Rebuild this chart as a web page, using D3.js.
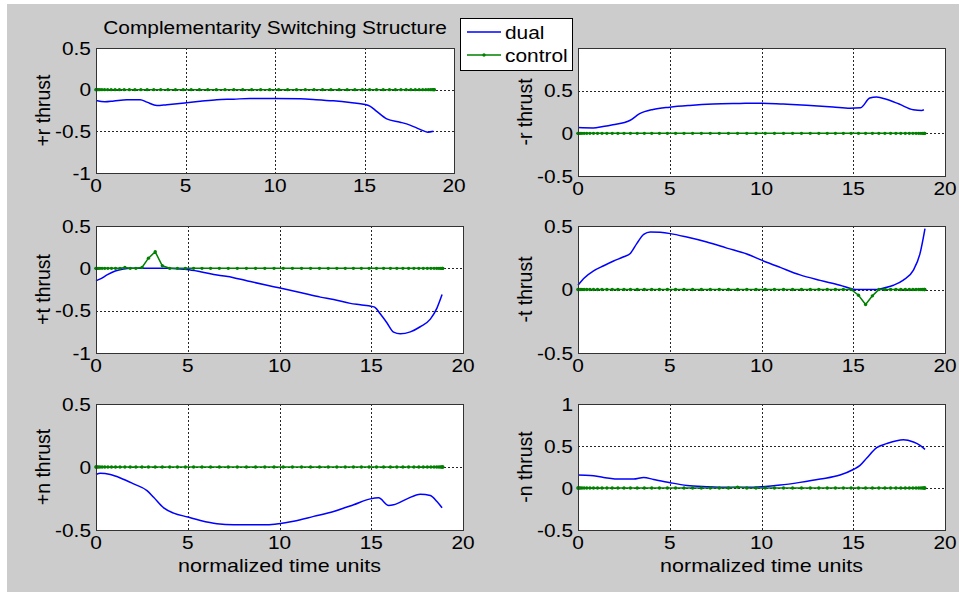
<!DOCTYPE html>
<html>
<head>
<meta charset="utf-8">
<script src="https://cdn.jsdelivr.net/npm/d3@7"></script>
<style>
  html, body { margin: 0; padding: 0; background: #ffffff; }
  svg { display: block; }
  text { font-family: "Liberation Sans", Arial, Helvetica, sans-serif; fill: #000; }
</style>
</head>
<body>
<svg id="chart" width="959" height="592"></svg>
<script>
// Collocation time nodes shared by the control history
const timeNodes = [0, 0.013, 0.054, 0.120, 0.214, 0.333, 0.478, 0.649, 0.845, 1.065,
  1.308, 1.575, 1.864, 2.175, 2.506, 2.857, 3.227, 3.614, 4.018, 4.438,
  4.871, 5.318, 5.776, 6.244, 6.722, 7.207, 7.699, 8.196, 8.696, 9.199,
  9.702, 10.204, 10.704, 11.201, 11.693, 12.178, 12.656, 13.124, 13.583, 14.029,
  14.462, 14.882, 15.286, 15.673, 16.043, 16.394, 16.725, 17.036, 17.325, 17.592,
  17.836, 18.056, 18.251, 18.422, 18.567, 18.687, 18.780, 18.847, 18.887, 18.9];

// Control values at each node
const ctrlPosR = [0,0,0,0,0,0,0,0,0,0, 0,0,0,0,0,0,0,0,0,0, 0,0,0,0,0,0,0,0,0,0,
  0,0,0,0,0,0,0,0,0,0, 0,0,0,0,0,0,0,0,0,0, 0,0,0,0,0,0,0,0,0,0];
const ctrlNegR = [0,0,0,0,0,0,0,0,0,0, 0,0,0,0,0,0,0,0,0,0, 0,0,0,0,0,0,0,0,0,0,
  0,0,0,0,0,0,0,0,0,0, 0,0,0,0,0,0,0,0,0,0, 0,0,0,0,0,0,0,0,0,0];
const ctrlPosT = [0,0,0,0,0,0,0,0,0,0, 0,0.01,0,0,0.01,0.12,0.195,0.03,0,0, 0,0,0,0,0,0,0,0,0,0,
  0,0,0,0,0,0,0,0,0,0, 0,0,0,0,0,0,0,0,0,0, 0,0,0,0,0,0,0,0,0,0];
const ctrlNegT = [0,0,0,0,0,0,0,0,0,0, 0,0,0,0,0,0,0,0,0,0, 0,0,0,0,0,0,0,0,0,0,
  0,0,0,0,0,0,0,0,0,0, 0,0,-0.045,-0.118,-0.05,0,0,0,0,0, 0,0,0,0,0,0,0,0,0,0];
const ctrlPosN = [0,0,0,0,0,0,0,0,0,0, 0,0,0,0,0,0,0,0,0,0, 0,0,0,0,0,0,0,0,0,0,
  0,0,0,0,0,0,0,0,0,0, 0,0,0,0,0,0,0,0,0,0, 0,0,0,0,0,0,0,0,0,0];
const ctrlNegN = [0,0,0,0,0,0,0,0,0,0, 0,0,0,0,0,0,0,0,0,0, 0,0,0,0,0,0,0,0,0.01,0,
  0,0,0,0,0,0,0,0,0,0, 0,0,0,0,0,0,0,0,0,0, 0,0,0,0,0,0,0,0,0,0];

// Dual (costate) histories as [time, value]
const dualPosR = [[0,-0.13],[0.5,-0.145],[1.0,-0.135],[1.73,-0.12],[2.47,-0.12],[2.85,-0.15],[3.4,-0.19],
  [3.96,-0.18],[4.95,-0.16],[5.82,-0.14],[6.75,-0.12],[7.68,-0.114],[8.6,-0.106],[9.97,-0.106],
  [11.4,-0.11],[12.3,-0.12],[13.26,-0.134],[14.2,-0.154],[15.03,-0.177],[15.3,-0.197],
  [15.68,-0.26],[16.24,-0.35],[16.99,-0.39],[17.54,-0.425],[18.1,-0.476],[18.53,-0.51],[18.85,-0.5]];
const dualNegR = [[0,0.067],[0.82,0.063],[1.36,0.079],[1.9,0.10],[2.82,0.15],[3.36,0.23],
  [4.09,0.28],[5.0,0.307],[6.09,0.327],[7.36,0.343],[8.82,0.35],[10.0,0.354],[11.18,0.343],
  [12.45,0.33],[13.9,0.31],[14.82,0.295],[15.4,0.3],[15.9,0.413],[16.27,0.425],[16.8,0.40],
  [17.5,0.343],[18.27,0.276],[18.73,0.268],[18.85,0.276]];
const dualPosT = [[0,-0.148],[0.24,-0.125],[0.6,-0.078],[1.05,-0.031],[1.5,-0.008],[1.87,0],
  [3.87,0],[4.6,-0.008],[4.96,-0.015],[5.69,-0.04],[6.6,-0.078],[7.5,-0.11],[8.41,-0.156],
  [9.32,-0.2],[9.97,-0.23],[11.13,-0.285],[12.23,-0.34],[12.95,-0.367],[13.86,-0.414],
  [14.4,-0.43],[15.04,-0.45],[15.2,-0.46],[15.5,-0.54],[15.86,-0.645],[16.22,-0.754],
  [16.58,-0.773],[17.13,-0.75],[17.67,-0.69],[18.22,-0.6],[18.58,-0.47],[18.86,-0.31]];
const dualNegT = [[0,0.034],[0.31,0.087],[0.85,0.147],[1.4,0.187],[1.94,0.224],[2.49,0.258],
  [2.85,0.284],[3.21,0.363],[3.58,0.434],[3.94,0.453],[4.48,0.45],[5.03,0.44],[5.93,0.413],
  [7.02,0.374],[8.11,0.326],[9.2,0.279],[10.04,0.229],[11.02,0.174],[12.1,0.115],
  [13.2,0.072],[14.28,0.034],[15.0,0.003],[15.2,0],[16.3,0],[16.46,0.005],[17.19,0.034],
  [17.73,0.074],[18.28,0.153],[18.64,0.284],[18.91,0.48]];
const dualPosN = [[0,-0.06],[0.24,-0.05],[0.78,-0.06],[1.33,-0.087],[2.05,-0.134],[2.78,-0.187],
  [3.14,-0.24],[3.69,-0.324],[4.23,-0.366],[5.01,-0.397],[5.69,-0.424],[6.59,-0.45],
  [7.5,-0.458],[8.41,-0.458],[9.32,-0.458],[9.97,-0.45],[10.77,-0.43],[11.86,-0.392],
  [12.95,-0.353],[14.04,-0.3],[14.95,-0.253],[15.4,-0.245],[15.95,-0.305],[16.22,-0.3],
  [16.95,-0.253],[17.67,-0.216],[18.22,-0.226],[18.58,-0.274],[18.86,-0.324]];
const dualNegN = [[0,0.154],[0.67,0.15],[1.4,0.126],[2.3,0.106],[3.03,0.106],[3.58,0.126],
  [4.12,0.102],[5.03,0.063],[5.93,0.031],[7.02,0.016],[8.11,0.008],[9.2,0.008],[10.04,0.016],
  [11.02,0.035],[12.1,0.067],[13.2,0.106],[14.28,0.154],[15.0,0.22],[15.37,0.27],[15.74,0.358],
  [16.28,0.48],[16.82,0.528],[17.73,0.575],[18.28,0.547],[18.64,0.508],[18.91,0.46]];

const xTicks = [0, 5, 10, 15, 20];
const xDomain = [0, 20];
const titleText = "Complementarity Switching Structure";
const xLabelText = "normalized time units";
const legendLabels = ["dual", "control"];

const BLUE = "#0000ff", GREEN = "#008000";
const FONT = 18.5, SX = 1.13, YLAB_FONT = 19.5;

const panels = [
  { label: "+r thrust", yDomain: [-1, 0.5], yTicks: [-1, -0.5, 0, 0.5], dual: dualPosR, control: ctrlPosR, box: { l: 96, r: 454, t: 48, b: 173 } },
  { label: "-r thrust", yDomain: [-0.5, 1], yTicks: [-0.5, 0, 0.5], dual: dualNegR, control: ctrlNegR, box: { l: 578, r: 945, t: 48, b: 176 } },
  { label: "+t thrust", yDomain: [-1, 0.5], yTicks: [-1, -0.5, 0, 0.5], dual: dualPosT, control: ctrlPosT, box: { l: 96, r: 463, t: 226, b: 353 } },
  { label: "-t thrust", yDomain: [-0.5, 0.5], yTicks: [-0.5, 0, 0.5], dual: dualNegT, control: ctrlNegT, box: { l: 578, r: 945, t: 226, b: 353 } },
  { label: "+n thrust", yDomain: [-0.5, 0.5], yTicks: [-0.5, 0, 0.5], dual: dualPosN, control: ctrlPosN, box: { l: 96, r: 463, t: 404, b: 530 }, xlabel: true },
  { label: "-n thrust", yDomain: [-0.5, 1], yTicks: [-0.5, 0, 0.5, 1], dual: dualNegN, control: ctrlNegN, box: { l: 578, r: 945, t: 404, b: 530 }, xlabel: true }
];

const svg = d3.select("#chart");

// figure background
svg.append("rect").attr("x", 7).attr("y", 4).attr("width", 952).attr("height", 588).attr("fill", "#cccccc");

// horizontal text, slightly widened
function hText(parent, x, y, str, anchor, size) {
  return parent.append("text")
    .attr("transform", `translate(${x},${y}) scale(${SX},1)`)
    .attr("text-anchor", anchor)
    .attr("font-size", size || FONT)
    .text(str);
}

panels.forEach(p => {
  const b = p.box;
  const x = d3.scaleLinear().domain(xDomain).range([b.l, b.r]);
  const y = d3.scaleLinear().domain(p.yDomain).range([b.b, b.t]);
  const g = svg.append("g");

  g.append("rect").attr("x", b.l).attr("y", b.t).attr("width", b.r - b.l).attr("height", b.b - b.t)
    .attr("fill", "#ffffff");

  // dotted grid
  const grid = g.append("g").attr("stroke", "#000").attr("stroke-width", 1).attr("stroke-dasharray", "2,2").attr("opacity", 0.85);
  xTicks.filter(v => v > xDomain[0] && v < xDomain[1]).forEach(v => {
    grid.append("line").attr("x1", Math.round(x(v)) + 0.5).attr("x2", Math.round(x(v)) + 0.5)
      .attr("y1", b.t).attr("y2", b.b);
  });
  p.yTicks.filter(v => v > p.yDomain[0] && v < p.yDomain[1]).forEach(v => {
    grid.append("line").attr("y1", Math.round(y(v)) + 0.5).attr("y2", Math.round(y(v)) + 0.5)
      .attr("x1", b.l).attr("x2", b.r);
  });

  // dual line
  const line = d3.line().x(d => x(d[0])).y(d => y(d[1])).curve(d3.curveMonotoneX);
  g.append("path").datum(p.dual).attr("d", line).attr("fill", "none")
    .attr("stroke", BLUE).attr("stroke-width", 1.5);

  // control line with dot markers
  const ctrl = timeNodes.map((t, i) => [t, p.control[i]]);
  g.append("path").datum(ctrl).attr("d", d3.line().x(d => x(d[0])).y(d => y(d[1])))
    .attr("fill", "none").attr("stroke", GREEN).attr("stroke-width", 1.5);
  g.append("g").selectAll("circle").data(ctrl).join("circle")
    .attr("cx", d => x(d[0])).attr("cy", d => y(d[1])).attr("r", 1.7).attr("fill", GREEN);

  // axes box
  g.append("rect").attr("x", b.l + 0.5).attr("y", b.t + 0.5).attr("width", b.r - b.l).attr("height", b.b - b.t)
    .attr("fill", "none").attr("stroke", "#333").attr("stroke-width", 1);

  // tick labels
  xTicks.forEach(v => hText(g, x(v), b.b + 18.5, String(v), "middle"));
  p.yTicks.forEach(v => hText(g, b.l - 5, y(v) + FONT * 0.36, String(v), "end"));

  // y label
  g.append("text")
    .attr("transform", `translate(${b.l - 46},${(b.t + b.b) / 2}) rotate(-90)`)
    .attr("text-anchor", "middle").attr("font-size", YLAB_FONT)
    .text(p.label);

  if (p.xlabel) hText(g, (b.l + b.r) / 2, b.b + 41.5, xLabelText, "middle", 19);
});

// title over the first panel
hText(svg, (panels[0].box.l + panels[0].box.r) / 2, 34, titleText, "middle");

// legend
const lg = svg.append("g");
lg.append("rect").attr("x", 460.5).attr("y", 18.5).attr("width", 112).attr("height", 52)
  .attr("fill", "#fff").attr("stroke", "#000").attr("stroke-width", 1);
const legendColors = [BLUE, GREEN];
legendLabels.forEach((name, i) => {
  const ly = 32 + i * 23;
  lg.append("line").attr("x1", 467).attr("x2", 501).attr("y1", ly).attr("y2", ly)
    .attr("stroke", legendColors[i]).attr("stroke-width", 1.5);
  if (i === 1) lg.append("circle").attr("cx", 484).attr("cy", ly).attr("r", 1.7).attr("fill", GREEN);
  hText(lg, 505, ly + 7, name, "start");
});
</script>
</body>
</html>
